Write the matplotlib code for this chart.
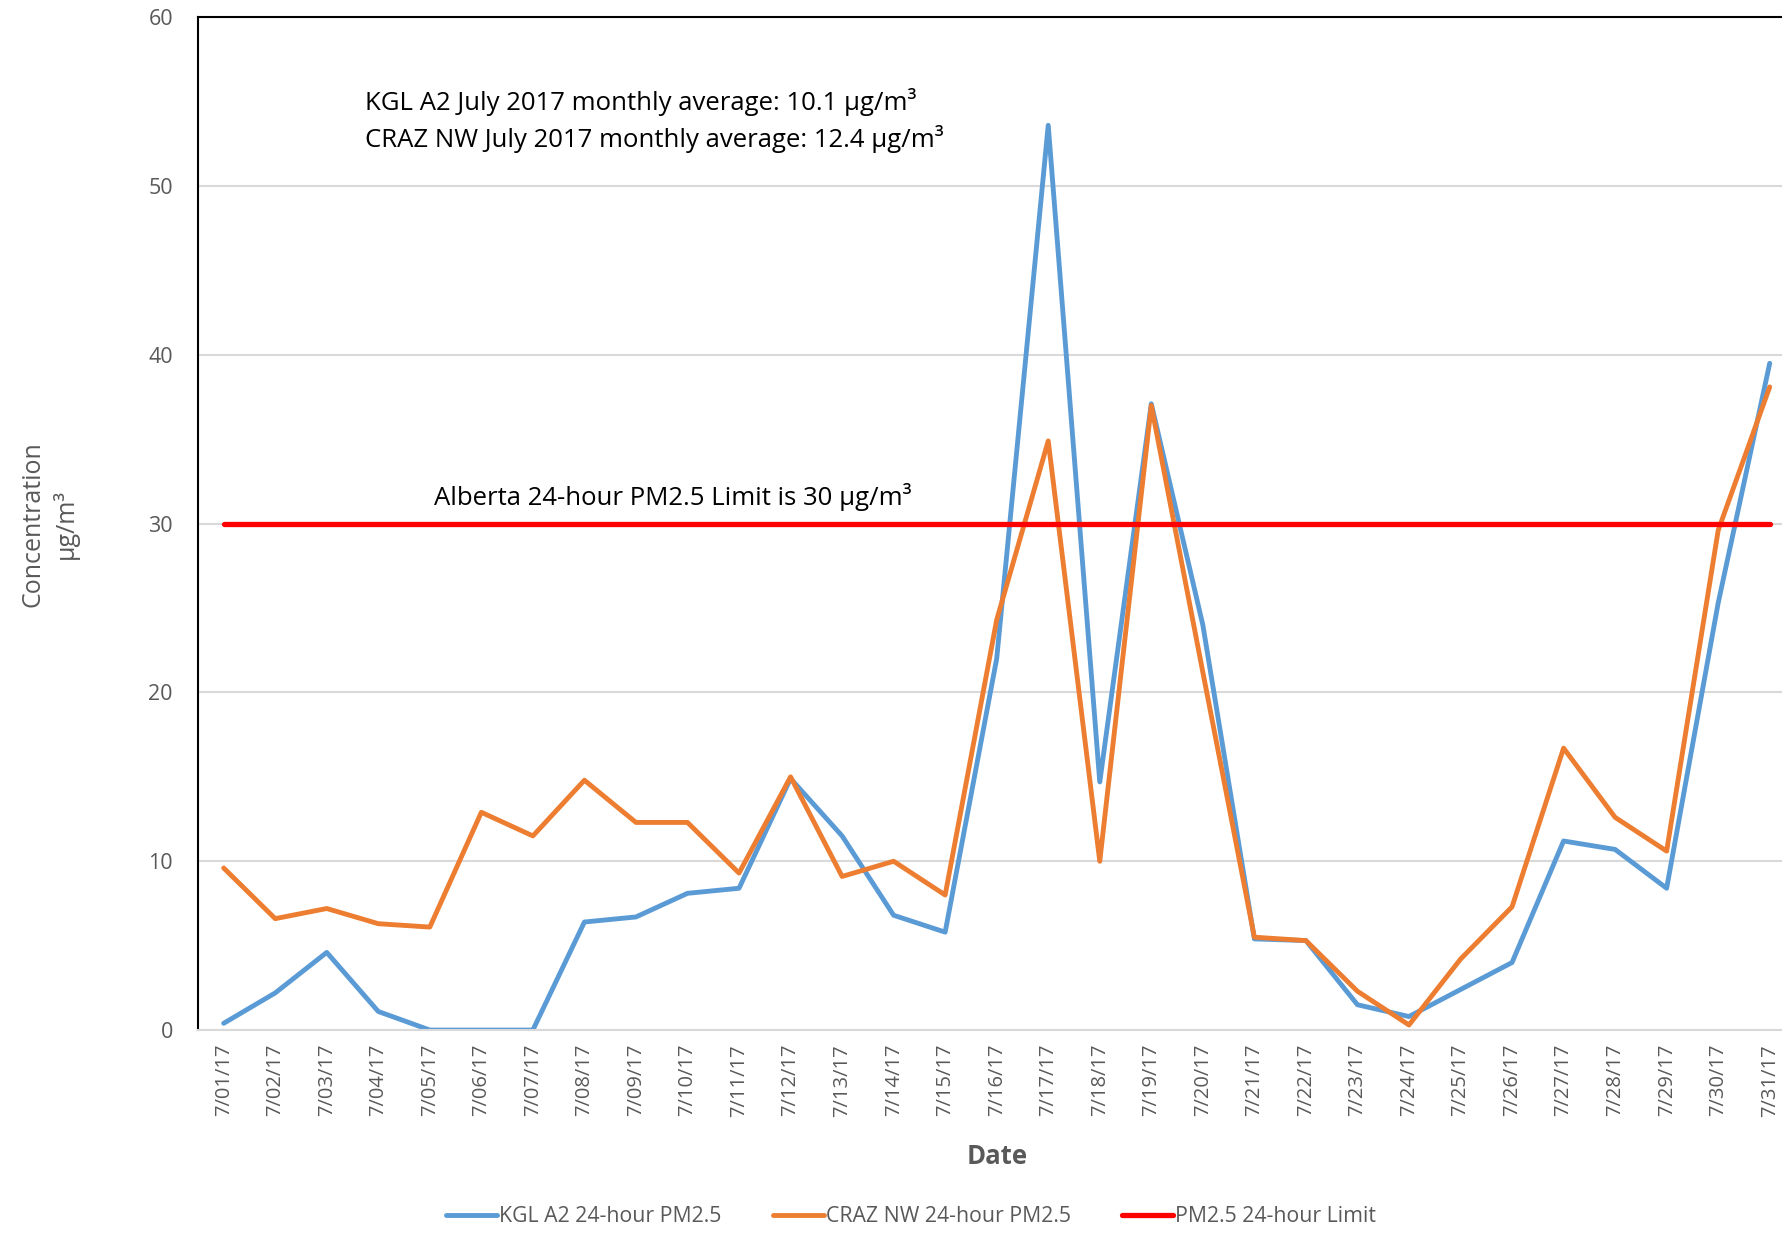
import numpy as np
import matplotlib.pyplot as plt

plt.rcParams['font.family'] = ['Open Sans', 'DejaVu Sans']

dates = ['7/%02d/17' % d for d in range(1, 32)]
kgl_a2 = [0.4, 2.2, 4.6, 1.1, 0.0, 0.0, 0.0, 6.4, 6.7, 8.1, 8.4, 14.9, 11.5, 6.8, 5.8,
          22.0, 53.6, 14.7, 37.1, 24.0, 5.4, 5.3, 1.5, 0.8, 2.4, 4.0, 11.2, 10.7, 8.4, 25.3, 39.5]
craz_nw = [9.6, 6.6, 7.2, 6.3, 6.1, 12.9, 11.5, 14.8, 12.3, 12.3, 9.3, 15.0, 9.1, 10.0, 8.0,
           24.3, 34.9, 10.0, 37.0, 21.2, 5.5, 5.3, 2.3, 0.3, 4.2, 7.3, 16.7, 12.6, 10.6, 29.6, 38.1]
limit = [30] * 31

fig = plt.figure(figsize=(17.83, 12.33), dpi=100)
ax = fig.add_axes([0.111, 0.1646, 0.896, 0.8214])
x = np.arange(len(dates))

ax.plot(x, kgl_a2, color='#5b9bd5', lw=3.5, solid_capstyle='round', label='KGL A2 24-hour PM2.5')
ax.plot(x, craz_nw, color='#ed7d31', lw=3.5, solid_capstyle='round', label='CRAZ NW 24-hour PM2.5')
ax.plot(x, limit, color='#ff0000', lw=3.8, solid_capstyle='round', label='PM2.5 24-hour Limit')

ax.set_xlim(-0.5, 30.5)
ax.set_ylim(0, 60)
ax.set_yticks(range(0, 61, 10))
ax.set_xticks(x)
ax.set_xticklabels(dates, rotation=90, fontsize=14.5, color='#595959')
ax.tick_params(axis='y', labelsize=15.5, colors='#595959', length=0, pad=18)
ax.tick_params(axis='x', length=0, pad=10)
ax.grid(axis='y', color='#d9d9d9', lw=1.5)
ax.set_axisbelow(True)
ax.spines['right'].set_visible(False)
ax.spines['bottom'].set_color('#d9d9d9')
ax.spines['bottom'].set_linewidth(1.5)
ax.spines['left'].set_linewidth(1.5)
ax.spines['top'].set_linewidth(1.5)

ax.set_xlabel('Date', fontsize=18.5, fontweight='bold', color='#595959', labelpad=19)
ax.set_ylabel('Concentration\nµg/m³', fontsize=18, color='#595959', labelpad=50, linespacing=1.3)

ax.text(2.74, 55, 'KGL A2 July 2017 monthly average: 10.1 µg/m³', fontsize=18.5, va='center')
ax.text(2.74, 52.8, 'CRAZ NW July 2017 monthly average: 12.4 µg/m³', fontsize=18.5, va='center')
ax.text(4.08, 31.6, 'Alberta 24-hour PM2.5 Limit is 30 µg/m³', fontsize=18.5, va='center')

fig.legend(loc='center', bbox_to_anchor=(0.511, 0.013), ncol=3, frameon=False,
           fontsize=15.3, handlelength=2.4, handletextpad=0.1, columnspacing=2.4,
           labelcolor='#595959')

fig.savefig('out.png', dpi=100)
